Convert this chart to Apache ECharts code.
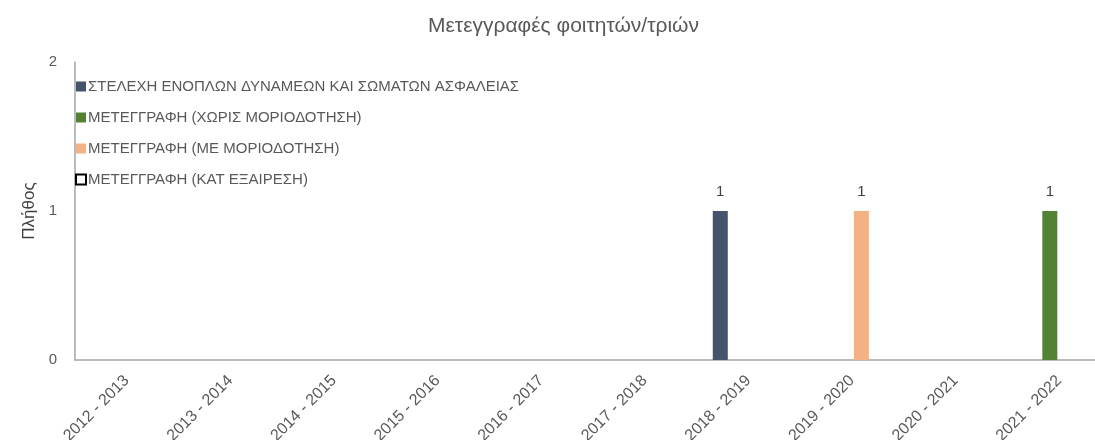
<!DOCTYPE html>
<html>
<head>
<meta charset="utf-8">
<script src="https://cdn.jsdelivr.net/npm/echarts@6/dist/echarts.min.js"></script>
<style>
  html, body { margin: 0; padding: 0; background: #fff; }
  #chart { width: 1095px; height: 440px; }
</style>
</head>
<body>
<div id="chart"></div>
<script>
var years = ['2012 - 2013', '2013 - 2014', '2014 - 2015', '2015 - 2016', '2016 - 2017',
             '2017 - 2018', '2018 - 2019', '2019 - 2020', '2020 - 2021', '2021 - 2022'];
var stelexi = [0, 0, 0, 0, 0, 0, 1, 0, 0, 0];
var xorisMorio = [0, 0, 0, 0, 0, 0, 0, 0, 0, 1];
var meMorio = [0, 0, 0, 0, 0, 0, 0, 1, 0, 0];
var katExairesi = [0, 0, 0, 0, 0, 0, 0, 0, 0, 0];
var yTicks = [0, 1, 2];

var font = 'Liberation Sans';
var grey = '#595959';

function mkSeries(name, data, color) {
    return {
        name: name,
        type: 'bar',
        data: data,
        barWidth: 15,
        barGap: '25%',
        itemStyle: {color: color},
        label: {
            show: true,
            position: 'top',
            distance: 12,
            color: '#404040',
            fontFamily: font,
            fontSize: 15,
            // κενές τιμές χωρίς ετικέτα
            formatter: function (p) { return p.value ? p.value : ''; }
        }
    };
}

var myChart = echarts.init(document.getElementById('chart'));
var option = {
    animation: false,
    textStyle: {fontFamily: font},
    title: {
        text: 'Μετεγγραφές φοιτητών/τριών',
        left: 423,
        top: 11,
        textStyle: {color: grey, fontSize: 21, fontWeight: 'normal', fontFamily: font}
    },
    legend: {
        orient: 'vertical',
        left: 75,
        top: 79,
        padding: 0,
        itemWidth: 10,
        itemHeight: 10,
        itemGap: 16,
        icon: 'rect',
        textStyle: {color: grey, fontSize: 15, fontFamily: font, padding: [0, 0, 0, -3]},
        data: [
            {name: 'ΣΤΕΛΕΧΗ ΕΝΟΠΛΩΝ ΔΥΝΑΜΕΩΝ ΚΑΙ ΣΩΜΑΤΩΝ ΑΣΦΑΛΕΙΑΣ'},
            {name: 'ΜΕΤΕΓΓΡΑΦΗ (ΧΩΡΙΣ ΜΟΡΙΟΔΟΤΗΣΗ)'},
            {name: 'ΜΕΤΕΓΓΡΑΦΗ (ΜΕ ΜΟΡΙΟΔΟΤΗΣΗ)'},
            {name: 'ΜΕΤΕΓΓΡΑΦΗ (ΚΑΤ ΕΞΑΙΡΕΣΗ)', itemStyle: {color: '#fff', borderColor: '#000', borderWidth: 2}}
        ]
    },
    grid: {left: 75, top: 62, width: 1036, bottom: 80, outerBoundsMode: 'none', containLabel: false},
    xAxis: {
        type: 'category',
        data: years,
        axisLine: {lineStyle: {color: '#a6a6a6', width: 1.5}},
        axisTick: {show: false},
        axisLabel: {rotate: 45, color: grey, fontSize: 16, fontFamily: font, margin: 18}
    },
    yAxis: {
        type: 'value',
        min: yTicks[0],
        max: yTicks[yTicks.length - 1],
        interval: 1,
        name: 'Πλήθος',
        nameLocation: 'middle',
        nameGap: 37,
        nameTextStyle: {color: '#404040', fontSize: 17, fontFamily: font},
        axisLine: {show: true, lineStyle: {color: '#a6a6a6', width: 1.5}},
        axisTick: {show: false},
        splitLine: {show: false},
        axisLabel: {color: grey, fontSize: 15, fontFamily: font, margin: 18}
    },
    series: [
        mkSeries('ΣΤΕΛΕΧΗ ΕΝΟΠΛΩΝ ΔΥΝΑΜΕΩΝ ΚΑΙ ΣΩΜΑΤΩΝ ΑΣΦΑΛΕΙΑΣ', stelexi, '#44546A'),
        mkSeries('ΜΕΤΕΓΓΡΑΦΗ (ΧΩΡΙΣ ΜΟΡΙΟΔΟΤΗΣΗ)', xorisMorio, '#548235'),
        mkSeries('ΜΕΤΕΓΓΡΑΦΗ (ΜΕ ΜΟΡΙΟΔΟΤΗΣΗ)', meMorio, '#F4B183'),
        mkSeries('ΜΕΤΕΓΓΡΑΦΗ (ΚΑΤ ΕΞΑΙΡΕΣΗ)', katExairesi, '#ffffff')
    ]
};
myChart.setOption(option);
</script>
</body>
</html>
